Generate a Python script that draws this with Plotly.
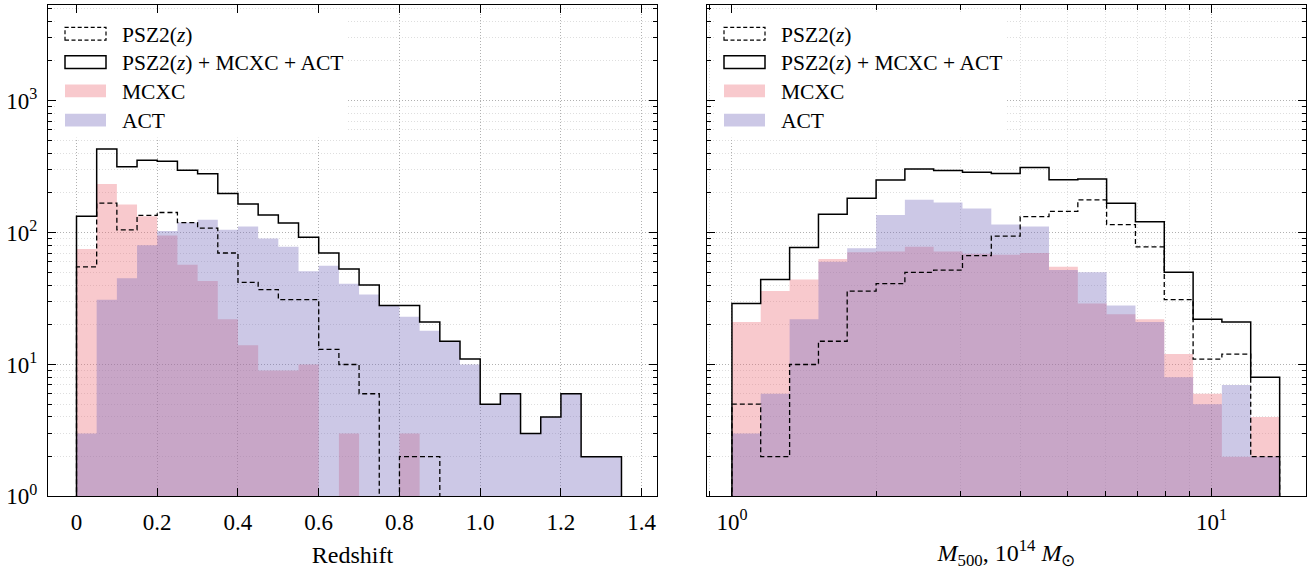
import plotly.graph_objects as go

# ---------------- data ----------------
# Left panel: redshift histograms (bin edges 0..1.35, step 0.05)
z_edges = [0.00, 0.05, 0.10, 0.15, 0.20, 0.25, 0.30, 0.35, 0.40, 0.45,
           0.50, 0.55, 0.60, 0.65, 0.70, 0.75, 0.80, 0.85, 0.90, 0.95,
           1.00, 1.05, 1.10, 1.15, 1.20, 1.25, 1.30, 1.35]
z_psz2 = [55, 167, 105, 135, 142, 119, 108, 70, 42, 37, 31, 31, 13, 10, 6, 0,
          2, 2, 0, 0, 0, 0, 0, 0, 0, 0, 0]
z_mcxc = [75, 233, 163, 133, 95, 57, 43, 22, 14, 9, 9, 10, 0, 3, 0, 0,
          3, 0, 0, 0, 0, 0, 0, 0, 0, 0, 0]
z_act = [3, 31, 45, 80, 103, 119, 125, 105, 111, 90, 78, 51, 56, 41, 34, 28,
         23, 18, 15, 10, 5, 6, 3, 4, 6, 2, 2]
z_total = [133, 431, 316, 354, 347, 297, 279, 198, 165, 136, 118, 92, 70, 53,
           40, 28, 28, 21, 15, 11, 5, 6, 3, 4, 6, 2, 2]

# Right panel: mass histograms (log bins, 10^14 Msun)
m_edges = [1.000, 1.148, 1.319, 1.515, 1.739, 1.998, 2.294, 2.634, 3.025,
           3.474, 3.990, 4.583, 5.263, 6.043, 6.940, 7.970, 9.154, 10.51,
           12.07, 13.87]
m_psz2 = [5, 2, 10, 15, 36, 41, 50, 52, 67, 94, 132, 145, 177, 115, 78, 31,
          11, 12, 2]
m_mcxc = [21, 36, 44, 63, 71, 72, 78, 72, 69, 68, 70, 55, 29, 24, 22, 12, 6,
          2, 4]
m_act = [3, 6, 22, 60, 76, 136, 177, 169, 152, 115, 111, 52, 50, 28, 21, 8, 5,
         7, 2]
m_total = [29, 44, 77, 138, 182, 250, 303, 295, 287, 280, 312, 252, 255, 167,
           121, 50, 22, 21, 8]

legend_labels = ["PSZ2(<i>z</i>)", "PSZ2(<i>z</i>) + MCXC + ACT", "MCXC", "ACT"]
x_titles = ["Redshift", "<i>M</i><sub>500</sub>, 10<sup>14</sup> <i>M</i><sub>⊙</sub>"]
z_ticks = [0, 0.2, 0.4, 0.6, 0.8, 1.0, 1.2, 1.4]
z_ticktext = ["0", "0.2", "0.4", "0.6", "0.8", "1.0", "1.2", "1.4"]
y_ticks = [1, 10, 100, 1000]
y_ticktext = ["10<sup>0</sup>", "10<sup>1</sup>", "10<sup>2</sup>", "10<sup>3</sup>"]
y_minor = [m * 10 ** e for e in range(0, 4) for m in range(2, 10)]
m_ticks = [1, 10]
m_ticktext = ["10<sup>0</sup>", "10<sup>1</sup>"]
m_minor = [0.9, 2, 3, 4, 5, 6, 7, 8, 9]

# ---------------- style ----------------
W, H = 1315, 570
FONT = "Liberation Serif, Times New Roman, serif"
PINK = "rgba(236,112,124,0.38)"
LAV = "rgba(121,110,189,0.38)"
FLOOR = 0.1


def step_path(edges, vals):
    xs = [edges[0]]
    ys = [FLOOR]
    for i, v in enumerate(vals):
        xs.append(edges[i])
        ys.append(v if v > 0 else FLOOR)
    xs.append(edges[-1])
    ys.append(FLOOR)
    return xs, ys


fig = go.Figure()

panels = [
    (z_edges, z_psz2, z_mcxc, z_act, z_total, "x", "y"),
    (m_edges, m_psz2, m_mcxc, m_act, m_total, "x2", "y2"),
]
for edges, psz2, mcxc, act, total, xa, ya in panels:
    for vals, col in ((mcxc, PINK), (act, LAV)):
        xs, ys = step_path(edges, vals)
        fig.add_trace(go.Scatter(x=xs, y=ys, mode="lines", line_shape="hv",
                                 line=dict(width=0, color=col), fill="toself",
                                 fillcolor=col, xaxis=xa, yaxis=ya,
                                 showlegend=False, hoverinfo="skip"))
    xs, ys = step_path(edges, psz2)
    fig.add_trace(go.Scatter(x=xs, y=ys, mode="lines", line_shape="hv",
                             line=dict(width=1.3, color="black", dash="5px,3px"),
                             xaxis=xa, yaxis=ya, showlegend=False))
    xs, ys = step_path(edges, total)
    fig.add_trace(go.Scatter(x=xs, y=ys, mode="lines", line_shape="hv",
                             line=dict(width=1.5, color="black"),
                             xaxis=xa, yaxis=ya, showlegend=False))

GRID = "#b0b0b0"
MINGRID = "#dedede"
DOTS = "1px,2px"
common = dict(showline=True, linecolor="black", linewidth=1.2, mirror="allticks",
              ticks="inside", ticklen=8, tickwidth=1, tickcolor="black",
              showgrid=True, gridcolor=GRID, griddash=DOTS, gridwidth=1,
              zeroline=False, ticklabelstandoff=5,
              tickfont=dict(family=FONT, size=23, color="black"))
xtitle_font = dict(family=FONT, size=24, color="black")

ydom = [(H - 508) / H, (H - 5) / H]
yrange = [0, 3.726]
yminor = dict(tickvals=y_minor, ticks="inside", ticklen=4, tickcolor="black",
              showgrid=True, gridcolor=MINGRID, griddash=DOTS)

fig.update_layout(
    width=W, height=H, autosize=False,
    margin=dict(l=0, r=0, t=0, b=0),
    paper_bgcolor="white", plot_bgcolor="white",
    font=dict(family=FONT, size=21, color="black"),
    xaxis=dict(domain=[48 / W, 657 / W], range=[-0.0706, 1.438], anchor="y",
               tickvals=z_ticks, ticktext=z_ticktext,
               title=dict(text=x_titles[0], font=xtitle_font, standoff=12),
               **common),
    yaxis=dict(domain=ydom, type="log", range=yrange, anchor="x",
               tickvals=y_ticks, ticktext=y_ticktext, minor=yminor, **common),
    xaxis2=dict(domain=[707 / W, 1306 / W], type="log", range=[-0.052, 1.197],
                anchor="y2", tickvals=m_ticks, ticktext=m_ticktext,
                title=dict(text=x_titles[1], font=xtitle_font, standoff=12),
                minor=dict(tickvals=m_minor, ticks="inside", ticklen=5,
                           tickcolor="black", showgrid=True, gridcolor=MINGRID,
                           griddash=DOTS),
                **common),
    yaxis2=dict(domain=ydom, type="log", range=yrange, anchor="x2",
                tickvals=y_ticks, ticktext=y_ticktext, showticklabels=False,
                minor=yminor, **common),
)

# ---------------- manual legends ----------------
shapes = []
annotations = []
for off in (0, 659):
    shapes.append(dict(type="rect", xref="paper", yref="paper", layer="above",
                       x0=(57 + off) / W, x1=(348 + off) / W,
                       y0=(H - 141) / H, y1=(H - 14) / H,
                       fillcolor="white", line=dict(width=0)))
    centers = [34.5, 63.5, 93, 123]
    styles = [
        dict(line=dict(color="black", width=1.2, dash="4px,2.5px"), fillcolor="rgba(0,0,0,0)"),
        dict(line=dict(color="black", width=1.5), fillcolor="rgba(0,0,0,0)"),
        dict(line=dict(width=0), fillcolor=PINK),
        dict(line=dict(width=0), fillcolor=LAV),
    ]
    for c, st, lab in zip(centers, styles, legend_labels):
        shapes.append(dict(type="rect", xref="paper", yref="paper", layer="above",
                           x0=(65 + off) / W, x1=(106 + off) / W,
                           y0=(H - c - 6.5) / H, y1=(H - c + 6.5) / H, **st))
        annotations.append(dict(xref="paper", yref="paper", x=(120 + off) / W,
                                y=(H - c - 1) / H, xanchor="left", yanchor="middle",
                                text=lab, showarrow=False,
                                font=dict(family=FONT, size=21.5, color="black")))

fig.update_layout(shapes=shapes, annotations=annotations)
fig.write_html("out.html")
